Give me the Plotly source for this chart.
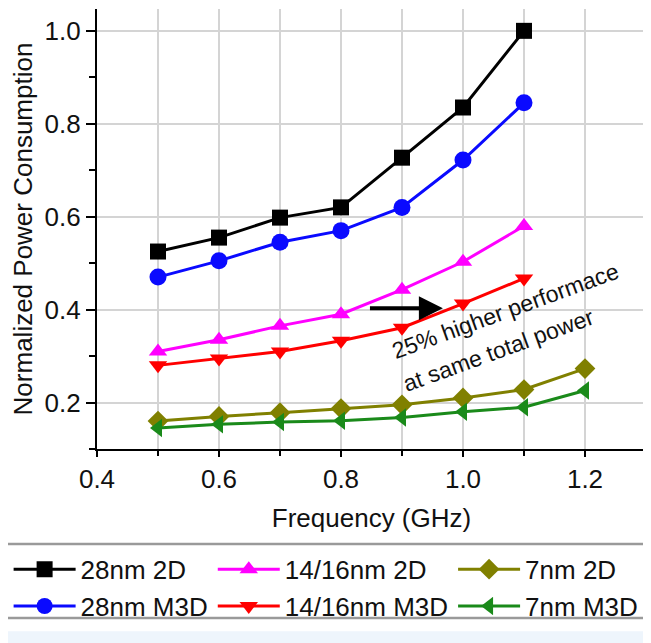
import plotly.graph_objects as go

freq = [0.5, 0.6, 0.7, 0.8, 0.9, 1.0, 1.1, 1.2]

nm28_2d = [0.525, 0.555, 0.598, 0.620, 0.727, 0.835, 1.000]
nm28_m3d = [0.470, 0.505, 0.545, 0.570, 0.620, 0.722, 0.845]
nm14_2d = [0.310, 0.335, 0.365, 0.390, 0.443, 0.503, 0.580]
nm14_m3d = [0.280, 0.295, 0.310, 0.333, 0.361, 0.413, 0.467]
nm7_2d = [0.160, 0.170, 0.178, 0.187, 0.195, 0.210, 0.228, 0.273]
nm7_m3d = [0.145, 0.153, 0.158, 0.161, 0.168, 0.180, 0.190, 0.226]

x_ticks = [0.4, 0.6, 0.8, 1.0, 1.2]
y_ticks = [0.2, 0.4, 0.6, 0.8, 1.0]

series = [
    ("28nm 2D", nm28_2d, "#000000", "square", "g28"),
    ("28nm M3D", nm28_m3d, "#0a0aff", "circle", "g28"),
    ("14/16nm 2D", nm14_2d, "#ff00ff", "triangle-up", "g14"),
    ("14/16nm M3D", nm14_m3d, "#ff0000", "triangle-down", "g14"),
    ("7nm 2D", nm7_2d, "#808000", "diamond", "g7"),
    ("7nm M3D", nm7_m3d, "#1a8a1a", "triangle-left", "g7"),
]

FONT = "Liberation Sans, Arial, sans-serif"
FS = 26

fig = go.Figure()
for name, vals, color, sym, grp in series:
    fig.add_trace(go.Scatter(
        x=freq[:len(vals)], y=vals, name=name, mode="lines+markers",
        line=dict(color=color, width=3),
        marker=dict(symbol=sym, size=16 if sym != "circle" else 17, color=color,
                    line=dict(width=0)),
        legendgroup=grp,
    ))

# annotation: arrow and rotated text
arrow_tail = (0.845, 0.403)
arrow_head = (0.967, 0.403)
fig.add_annotation(x=arrow_head[0], y=arrow_head[1], ax=arrow_tail[0], ay=arrow_tail[1],
                   xref="x", yref="y", axref="x", ayref="y", text="", showarrow=True,
                   arrowhead=2, arrowsize=1.2, arrowwidth=4, arrowcolor="#000000")
fig.add_annotation(x=1.069, y=0.396, xref="x", yref="y", text="25% higher performace",
                   showarrow=False, textangle=-20,
                   font=dict(family=FONT, size=23, color="#111111"))
fig.add_annotation(x=1.059, y=0.313, xref="x", yref="y", text="at same total power",
                   showarrow=False, textangle=-20,
                   font=dict(family=FONT, size=23, color="#111111"))

# legend frame rules and bottom band
fig.add_shape(type="line", xref="paper", yref="paper", x0=-0.2, x1=1.05, y0=-0.216, y1=-0.216,
              line=dict(color="#9a9a9a", width=2.5))
fig.add_shape(type="line", xref="paper", yref="paper", x0=-0.2, x1=1.05, y0=-0.384, y1=-0.384,
              line=dict(color="#9a9a9a", width=2.5))
fig.add_shape(type="rect", xref="paper", yref="paper", x0=-0.2, x1=1.05, y0=-0.414, y1=-0.47,
              line=dict(width=0), fillcolor="#eef5fc", layer="below")

axis_common = dict(showline=True, linecolor="#000000", linewidth=2.2)

fig.update_layout(
    width=651, height=643,
    margin=dict(l=89, r=13, t=1, b=202, autoexpand=False),
    paper_bgcolor="#ffffff", plot_bgcolor="#ffffff",
    font=dict(family=FONT, size=FS, color="#111111"),
    showlegend=True,
    legend=dict(orientation="h", traceorder="grouped", x=-0.161, xanchor="left",
                y=-0.22, yanchor="top", itemwidth=62, tracegroupgap=4,
                font=dict(family=FONT, size=FS, color="#111111"),
                bgcolor="rgba(0,0,0,0)", itemclick=False),
    xaxis=dict(range=[0.4, 1.3], tickvals=x_ticks, ticktext=[f"{v:.1f}" for v in x_ticks],
               ticks="outside", ticklen=6, tickwidth=2, tickcolor="#000000",
               showgrid=True, gridcolor="#d4d4d4", gridwidth=1.5,
               minor=dict(dtick=0.1, tick0=0.4, ticks="outside", ticklen=5, tickwidth=2,
                          tickcolor="#000000", showgrid=True, gridcolor="#d4d4d4", gridwidth=1.5),
               title=dict(text="Frequency (GHz)", standoff=16, font=dict(size=FS)),
               zeroline=False, **axis_common),
    yaxis=dict(range=[0.1, 1.047], tickvals=y_ticks, ticktext=[f"{v:.1f}" for v in y_ticks],
               ticks="outside", ticklen=9, tickwidth=2, tickcolor="#000000",
               showgrid=True, gridcolor="#d4d4d4", gridwidth=1.5,
               minor=dict(dtick=0.1, tick0=0.1, ticks="outside", ticklen=6, tickwidth=2,
                          tickcolor="#000000", showgrid=False),
               title=dict(text="Normalized Power Consumption", standoff=8, font=dict(size=FS)),
               zeroline=False, **axis_common),
    xaxis2=dict(range=[0.4, 1.3], overlaying="x", side="top", anchor="y", dtick=0.1, tick0=0.4,
                ticks="inside", ticklen=8, tickwidth=2, tickcolor="#000000",
                showticklabels=False, showgrid=False, zeroline=False, **axis_common),
    yaxis2=dict(range=[0.1, 1.047], overlaying="y", side="right", anchor="x", dtick=0.1, tick0=0.1,
                ticks="inside", ticklen=8, tickwidth=2, tickcolor="#000000",
                showticklabels=False, showgrid=False, zeroline=False, **axis_common),
)

fig.write_html("out.html")
